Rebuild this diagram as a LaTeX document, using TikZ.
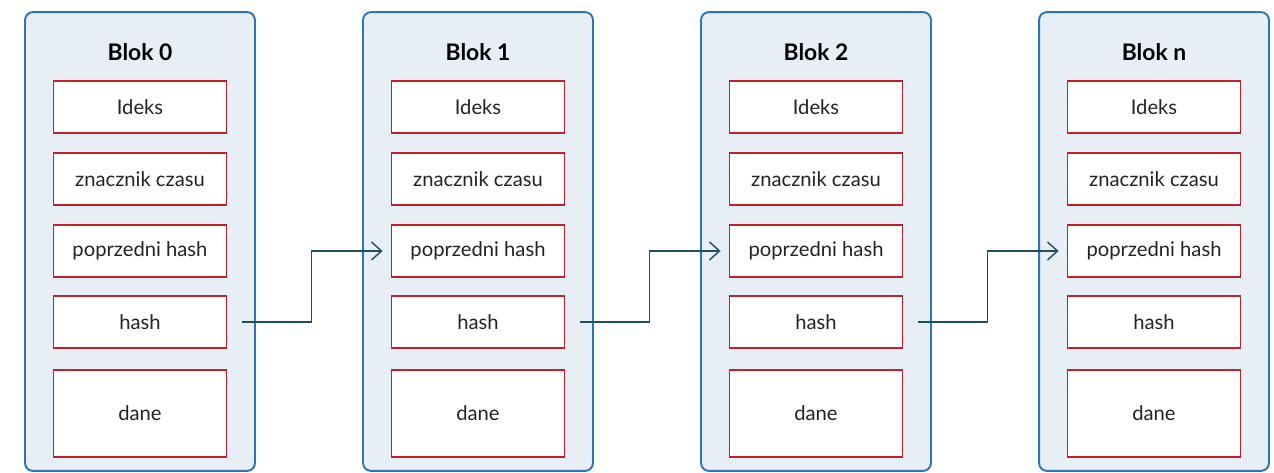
\documentclass[tikz,border=0pt]{standalone}
\usepackage{fontspec}
\setmainfont{Lato}
\usetikzlibrary{arrows.meta}

\definecolor{blokfill}{RGB}{231,238,245}
\definecolor{blokline}{RGB}{46,117,182}
\definecolor{fieldred}{RGB}{192,32,38}
\definecolor{linkcol}{RGB}{31,78,95}
\definecolor{txt}{RGB}{35,35,35}

\tikzset{
  blok/.style={draw=blokline, fill=blokfill, line width=1.1pt, rounded corners=0.16cm,
    minimum width=4.6cm, minimum height=9.18cm},
  blokname/.style={text=black, font=\fontsize{13}{15}\selectfont\bfseries},
  field/.style={draw=fieldred, fill=white, line width=1.1pt, minimum width=3.46cm,
    minimum height=1.04cm, text=txt, font=\fontsize{11.5}{14}\selectfont},
  link/.style={draw=linkcol, line width=0.8pt, -{Straight Barb[length=0.2cm,width=0.36cm]},
    shorten <=0.3cm, shorten >=0.16cm}
}

\begin{document}
\begin{tikzpicture}[x=0.02cm, y=-0.02cm]
\useasboundingbox (0,0) rectangle (1274,473);
% bloki
\foreach \lab [count=\i from 0] in {0,1,2,n} {
  \pgfmathsetmacro\cx{140+338*\i}
  \node[blok] (k\i) at (\cx,241.5) {};
  \node[blokname] (t\i) at (\cx,52) {Blok \lab};
  \node[field] (id\i) at (\cx,107) {Ideks};
  \node[field] (ts\i) at (\cx,179) {znacznik czasu};
  \node[field] (p\i) at (\cx,251) {poprzedni hash};
  \node[field] (h\i) at (\cx,322) {hash};
  \node[field, minimum height=1.74cm] (d\i) at (\cx,413.5) {dane};
}
% polaczenia hash -> poprzedni hash
\foreach \i [evaluate=\i as \j using int(\i+1)] in {0,1,2}
  \draw[link] (h\i.east) -- ++(84,0) |- (p\j.west);
\end{tikzpicture}
\end{document}
